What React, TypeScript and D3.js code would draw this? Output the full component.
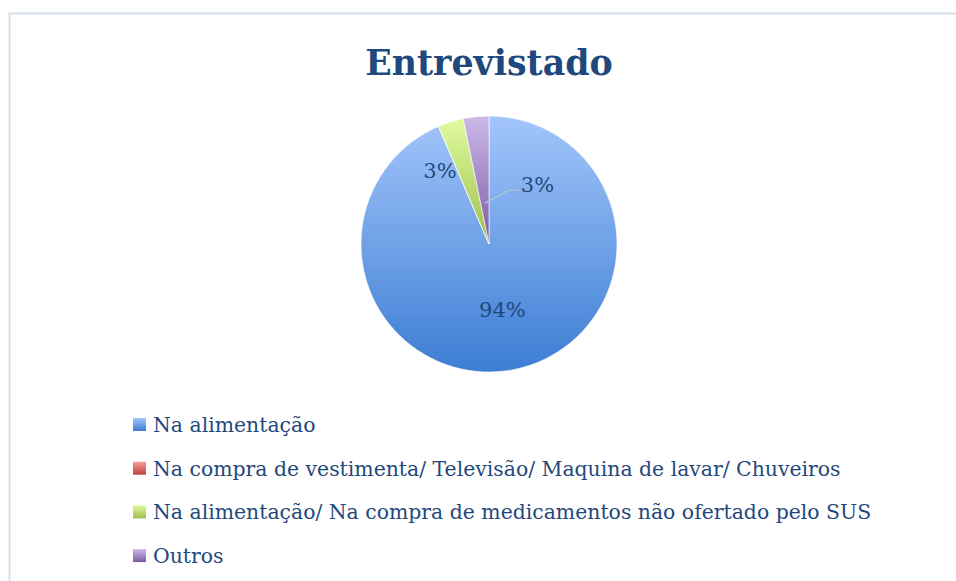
import React from "react";
import * as d3 from "d3";

const categories = [
  "Na alimentação",
  "Na compra de vestimenta/ Televisão/ Maquina de lavar/ Chuveiros",
  "Na alimentação/ Na compra de medicamentos não ofertado pelo SUS",
  "Outros",
];
const counts = [29, 0, 1, 1];
const gradTop = ["#a3c6fb", "#f7a09d", "#e0fba0", "#cdb9ea"];
const gradBottom = ["#3c7dd3", "#c0403c", "#9cbf4c", "#7a5aa6"];

const W = 956, H = 581;
const cx = 489, cy = 244, R = 128;
const textColor = "#1f497d";
const font = "'DejaVu Serif', serif";

export default function App() {
  const total = d3.sum(counts);
  const pie = d3.pie<number>().sort(null).value(d => d)(counts);
  const arc = d3.arc<d3.PieArcDatum<number>>().innerRadius(0).outerRadius(R);
  const fmt = (v: number) => `${Math.round((v / total) * 100)}%`;

  // label placement per slice (Excel "best fit")
  const labelArc = (r: number) => d3.arc<d3.PieArcDatum<number>>().innerRadius(r).outerRadius(r);
  const blueC = labelArc(R * 0.52).centroid(pie[0]);
  const greenC = labelArc(R * 0.68).centroid(pie[2]);
  const purpleIn = labelArc(R * 0.32).centroid(pie[3]);

  return (
    <svg width={W} height={H} style={{ position: "absolute", left: 0, top: 0, background: "#fff" }}>
      <defs>
        {categories.map((c, i) => (
          <linearGradient key={c} id={`g${i}`} x1="0" y1="0" x2="0" y2="1">
            <stop offset="0%" stopColor={gradTop[i]} />
            <stop offset="100%" stopColor={gradBottom[i]} />
          </linearGradient>
        ))}
      </defs>
      <rect x={9.5} y={13.5} width={W} height={H} fill="none" stroke="#d5dfee" strokeWidth={2} />
      <text x={cx} y={75} textAnchor="middle" fontFamily={font} fontWeight="bold" fontSize={34.8} fill={textColor}>
        Entrevistado
      </text>
      <g transform={`translate(${cx},${cy})`}>
        {pie.map((d, i) => (
          <path key={i} d={arc(d) || ""} fill={`url(#g${i})`} stroke="#fff" strokeWidth={0.6} />
        ))}
        <text x={blueC[0]} y={blueC[1] + 8} textAnchor="middle" fontFamily={font} fontSize={21} fill={textColor}>
          {fmt(counts[0])}
        </text>
        <text x={greenC[0] - 23} y={greenC[1] + 17} textAnchor="middle" fontFamily={font} fontSize={21} fill={textColor}>
          {fmt(counts[2])}
        </text>
        <polyline
          points={`${purpleIn[0]},${purpleIn[1]} ${purpleIn[0] + 24},${purpleIn[1] - 13} ${purpleIn[0] + 34},${purpleIn[1] - 13}`}
          fill="none"
          stroke="#a9bfdc"
          strokeWidth={1.5}
        />
        <text x={purpleIn[0] + 36} y={purpleIn[1] - 11} textAnchor="start" fontFamily={font} fontSize={21} fill={textColor}>
          {fmt(counts[3])}
        </text>
      </g>
      <g>
        {categories.map((c, i) => (
          <g key={c} transform={`translate(133,${418 + i * 43.7})`}>
            <rect width={13} height={13} fill={`url(#g${i})`} />
            <text x={20} y={14} fontFamily={font} fontSize={20.4} fill={textColor}>
              {c}
            </text>
          </g>
        ))}
      </g>
    </svg>
  );
}
